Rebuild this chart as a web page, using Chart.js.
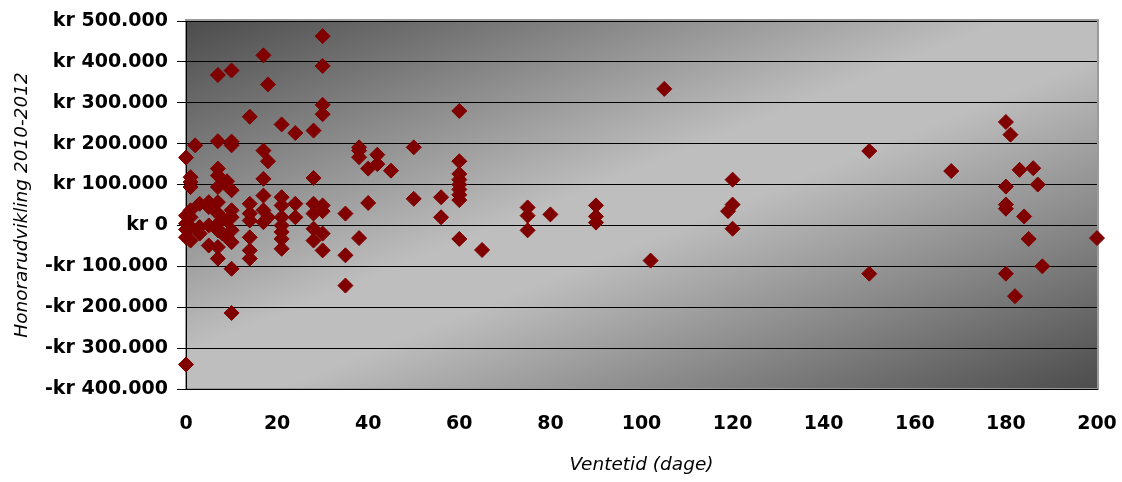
<!DOCTYPE html>
<html>
<head>
<meta charset="utf-8">
<script src="https://cdn.jsdelivr.net/npm/chart.js@4/dist/chart.umd.min.js"></script>
<style>
  html, body { margin: 0; padding: 0; background: #ffffff; }
  #wrap { width: 1122px; height: 482px; }
</style>
</head>
<body>
<div id="wrap"><canvas id="scatterChart"></canvas></div>
<script>
// Ventetid (dage) for hver observation
const ventetid = [
  0, 0, 0, 0, 0, 0,
  1, 1, 1, 1, 1, 1, 1,
  2,
  3, 3, 3,
  5, 5, 5, 5,
  7, 7, 7, 7, 7, 7, 7, 7, 7, 7, 7,
  8,
  9, 9, 9, 9,
  10, 10, 10, 10, 10, 10, 10, 10, 10, 10,
  14, 14, 14, 14, 14, 14, 14,
  17, 17, 17, 17, 17, 17,
  18, 18, 18,
  21, 21, 21, 21, 21, 21, 21, 21,
  24, 24, 24,
  28, 28, 28, 28, 28, 28,
  30, 30, 30, 30, 30, 30, 30, 30,
  35, 35, 35,
  38, 38, 38, 38,
  40, 40,
  42, 42,
  45,
  50, 50,
  56, 56,
  60, 60, 60, 60, 60, 60, 60, 60, 60,
  65,
  75, 75, 75,
  80,
  90, 90, 90,
  102, 105, 119,
  120, 120, 120,
  150, 150,
  168,
  180, 180, 180, 180, 180,
  181, 182, 183, 184, 185, 186, 187, 188,
  200
];

// Honorarudvikling 2010-2012 (kr)
const honorar = [
  166000, 24000, 5000, -10000, -29000, -340000,
  118000, 106000, 94000, 37000, 20000, -4000, -37000,
  196000,
  53000, -4000, -20000,
  57000, 45000, 0, -49000,
  368000, 206000, 139000, 122000, 94000, 57000, 29000, 4000, -12000, -53000, -81000,
  -20000,
  108000, 98000, 12000, -29000,
  379000, 205000, 196000, 86000, 37000, 20000, -12000, -41000, -106000, -214000,
  266000, 53000, 29000, 12000, -29000, -61000, -81000,
  416000, 183000, 114000, 73000, 37000, 8000,
  345000, 157000, 20000,
  247000, 69000, 49000, 20000, 0, -16000, -33000, -57000,
  226000, 53000, 20000,
  232000, 116000, 53000, 29000, -8000, -37000,
  463000, 390000, 295000, 272000, 49000, 35000, -20000, -61000,
  29000, -73000, -147000,
  191000, 183000, 167000, -31000,
  139000, 55000,
  173000, 150000,
  134000,
  191000, 65000,
  69000, 20000,
  280000, 157000, 126000, 112000, 100000, 88000, 75000, 62000, -33000,
  -60000,
  44000, 24000, -12000,
  27000,
  49000, 22000, 7000,
  -86000, 334000, 35000,
  112000, 51000, -8000,
  182000, -118000,
  133000,
  253000, 95000, 51000, 41000, -118000,
  222000, -173000, 136000, 22000, -33000, 140000, 100000, -100000,
  -31000
];

const yMin = -400000;
const yMax = 500000;
const yStep = 100000;
const xMin = 0;
const xMax = 200;
const xStep = 20;

const points = ventetid.map((d, i) => ({ x: d, y: honorar[i] }));

// kr-format med punktum som tusindtalsseparator
function formatKr(value) {
  const abs = Math.abs(value).toString().replace(/\B(?=(\d{3})+(?!\d))/g, '.');
  return (value < 0 ? '-kr ' : 'kr ') + abs;
}

// gradient baggrund i plotområdet + grå ramme
const plotBackground = {
  id: 'plotBackground',
  beforeDraw(chart) {
    const ctx = chart.ctx;
    const a = chart.chartArea;
    ctx.save();
    ctx.fillStyle = '#ffffff';
    ctx.fillRect(0, 0, chart.width, chart.height);
    ctx.translate(a.left, a.top);
    ctx.scale(a.right - a.left, a.bottom - a.top);
    const grad = ctx.createLinearGradient(0, 0, 1, 1);
    grad.addColorStop(0, '#4c4c4c');
    grad.addColorStop(0.45, '#bebebe');
    grad.addColorStop(0.55, '#bebebe');
    grad.addColorStop(1, '#4c4c4c');
    ctx.fillStyle = grad;
    ctx.fillRect(0, 0, 1, 1);
    ctx.restore();

    ctx.save();
    ctx.strokeStyle = '#9a9a9a';
    ctx.lineWidth = 2;
    ctx.strokeRect(a.left, a.top - 1, a.right - a.left + 1, a.bottom - a.top + 1);
    ctx.restore();
  }
};

const tickFont = { family: 'DejaVu Sans', size: 19, weight: 'bold' };
const titleFont = { family: 'DejaVu Sans', size: 18.5, style: 'italic', weight: 'normal' };

document.addEventListener('DOMContentLoaded', () => {
  const ctx = document.getElementById('scatterChart').getContext('2d');
  new Chart(ctx, {
    type: 'scatter',
    data: {
      datasets: [{
        label: 'Honorarudvikling',
        data: points,
        pointStyle: 'rectRot',
        pointRadius: 7.5,
        pointBorderWidth: 1,
        backgroundColor: '#800000',
        borderColor: '#800000',
        clip: false
      }]
    },
    options: {
      responsive: true,
      maintainAspectRatio: false,
      animation: false,
      devicePixelRatio: 1,
      layout: { padding: { top: 21, right: 25, left: 0, bottom: 0 } },
      plugins: {
        legend: { display: false },
        tooltip: { enabled: false }
      },
      scales: {
        x: {
          type: 'linear',
          min: xMin,
          max: xMax,
          afterFit(scale) {
            scale.height = 93;
            scale.paddingLeft = 0;
            scale.paddingRight = 0;
          },
          ticks: {
            stepSize: xStep,
            color: '#000000',
            font: tickFont,
            padding: 24,
            maxRotation: 0
          },
          grid: { display: false, drawTicks: false },
          border: { display: true, color: '#000000', width: 1 },
          title: {
            display: true,
            text: 'Ventetid (dage)',
            color: '#000000',
            font: titleFont,
            padding: { top: 4, bottom: 6 }
          }
        },
        y: {
          type: 'linear',
          min: yMin,
          max: yMax,
          afterFit(scale) {
            scale.width = 186;
            scale.paddingTop = 0;
            scale.paddingBottom = 0;
          },
          ticks: {
            stepSize: yStep,
            color: '#000000',
            font: tickFont,
            padding: 9,
            callback: (v) => formatKr(v)
          },
          grid: {
            color: '#000000',
            lineWidth: 1,
            tickLength: 9,
            drawTicks: true
          },
          border: { display: true, color: '#000000', width: 1 },
          title: {
            display: true,
            text: 'Honorarudvikling 2010-2012',
            color: '#000000',
            font: titleFont,
            padding: { top: 11, bottom: 4 }
          }
        }
      }
    },
    plugins: [plotBackground]
  });
});
</script>
</body>
</html>
